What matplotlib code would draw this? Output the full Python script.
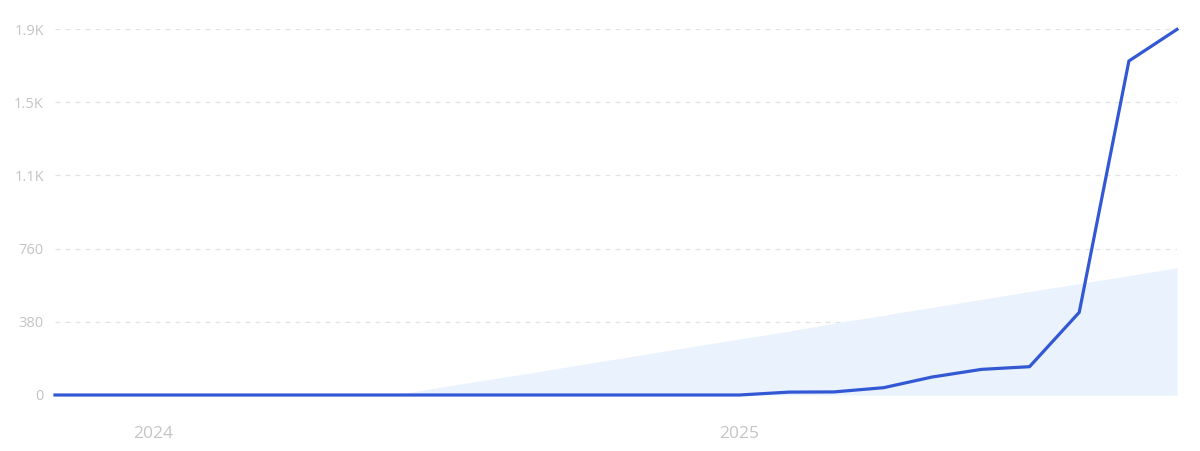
import numpy as np
import pandas as pd
import matplotlib.pyplot as plt
import matplotlib.dates as mdates

# monthly values, Nov 2023 .. Oct 2025
months = pd.date_range("2023-11-01", "2025-10-01", freq="MS")
values = [0, 0, 0, 0, 0, 0, 0, 0, 0, 0, 0, 0, 0, 0,
          0, 15, 16, 38, 93, 133, 147, 429, 1734, 1898]
yticks = [0, 380, 760, 1140, 1520, 1900]
ylabels = ["0", "380", "760", "1.1K", "1.5K", "1.9K"]
xtick_dates = [pd.Timestamp("2024-01-01"), pd.Timestamp("2025-01-01")]
xlabels = ["2024", "2025"]

plt.rcParams['font.family'] = ['Open Sans', 'DejaVu Sans']

fig = plt.figure(figsize=(12, 4.51), dpi=100)
ax = fig.add_axes([55 / 1200, 1 - 395 / 451, 1122 / 1200, 366 / 451])

x = mdates.date2num(months)
y = np.array(values, dtype=float)

# linear trend of the series, shown as a shaded area above zero
idx = np.arange(len(y))
slope, icpt = np.polyfit(idx, y, 1)
trend = slope * idx + icpt
ax.fill_between(x, 0, trend, where=trend > 0, interpolate=True,
                color='#e9f2fd', linewidth=0, zorder=1)

for t in yticks[1:]:
    ax.axhline(t, color='#e3e3e3', lw=0.9, ls=(0, (4, 4)), zorder=0)
ax.axhline(0, color='#dfe6f3', lw=0.8, zorder=1)

ax.plot(x, y, color='#3358d4', lw=2.3, solid_joinstyle='round',
        clip_on=False, zorder=3)

ax.set_xlim(x[0], x[-1])
ax.set_ylim(0, 1900)
ax.set_yticks(yticks)
ax.set_yticklabels(ylabels)
ax.set_xticks(mdates.date2num(xtick_dates))
ax.set_xticklabels(xlabels)
ax.tick_params(axis='both', length=0, labelcolor='#c4c4c4')
ax.tick_params(axis='y', pad=8, labelsize=10.5)
ax.tick_params(axis='x', pad=22, labelsize=12.5)
for s in ax.spines.values():
    s.set_visible(False)

fig.savefig("out.png", dpi=100)
